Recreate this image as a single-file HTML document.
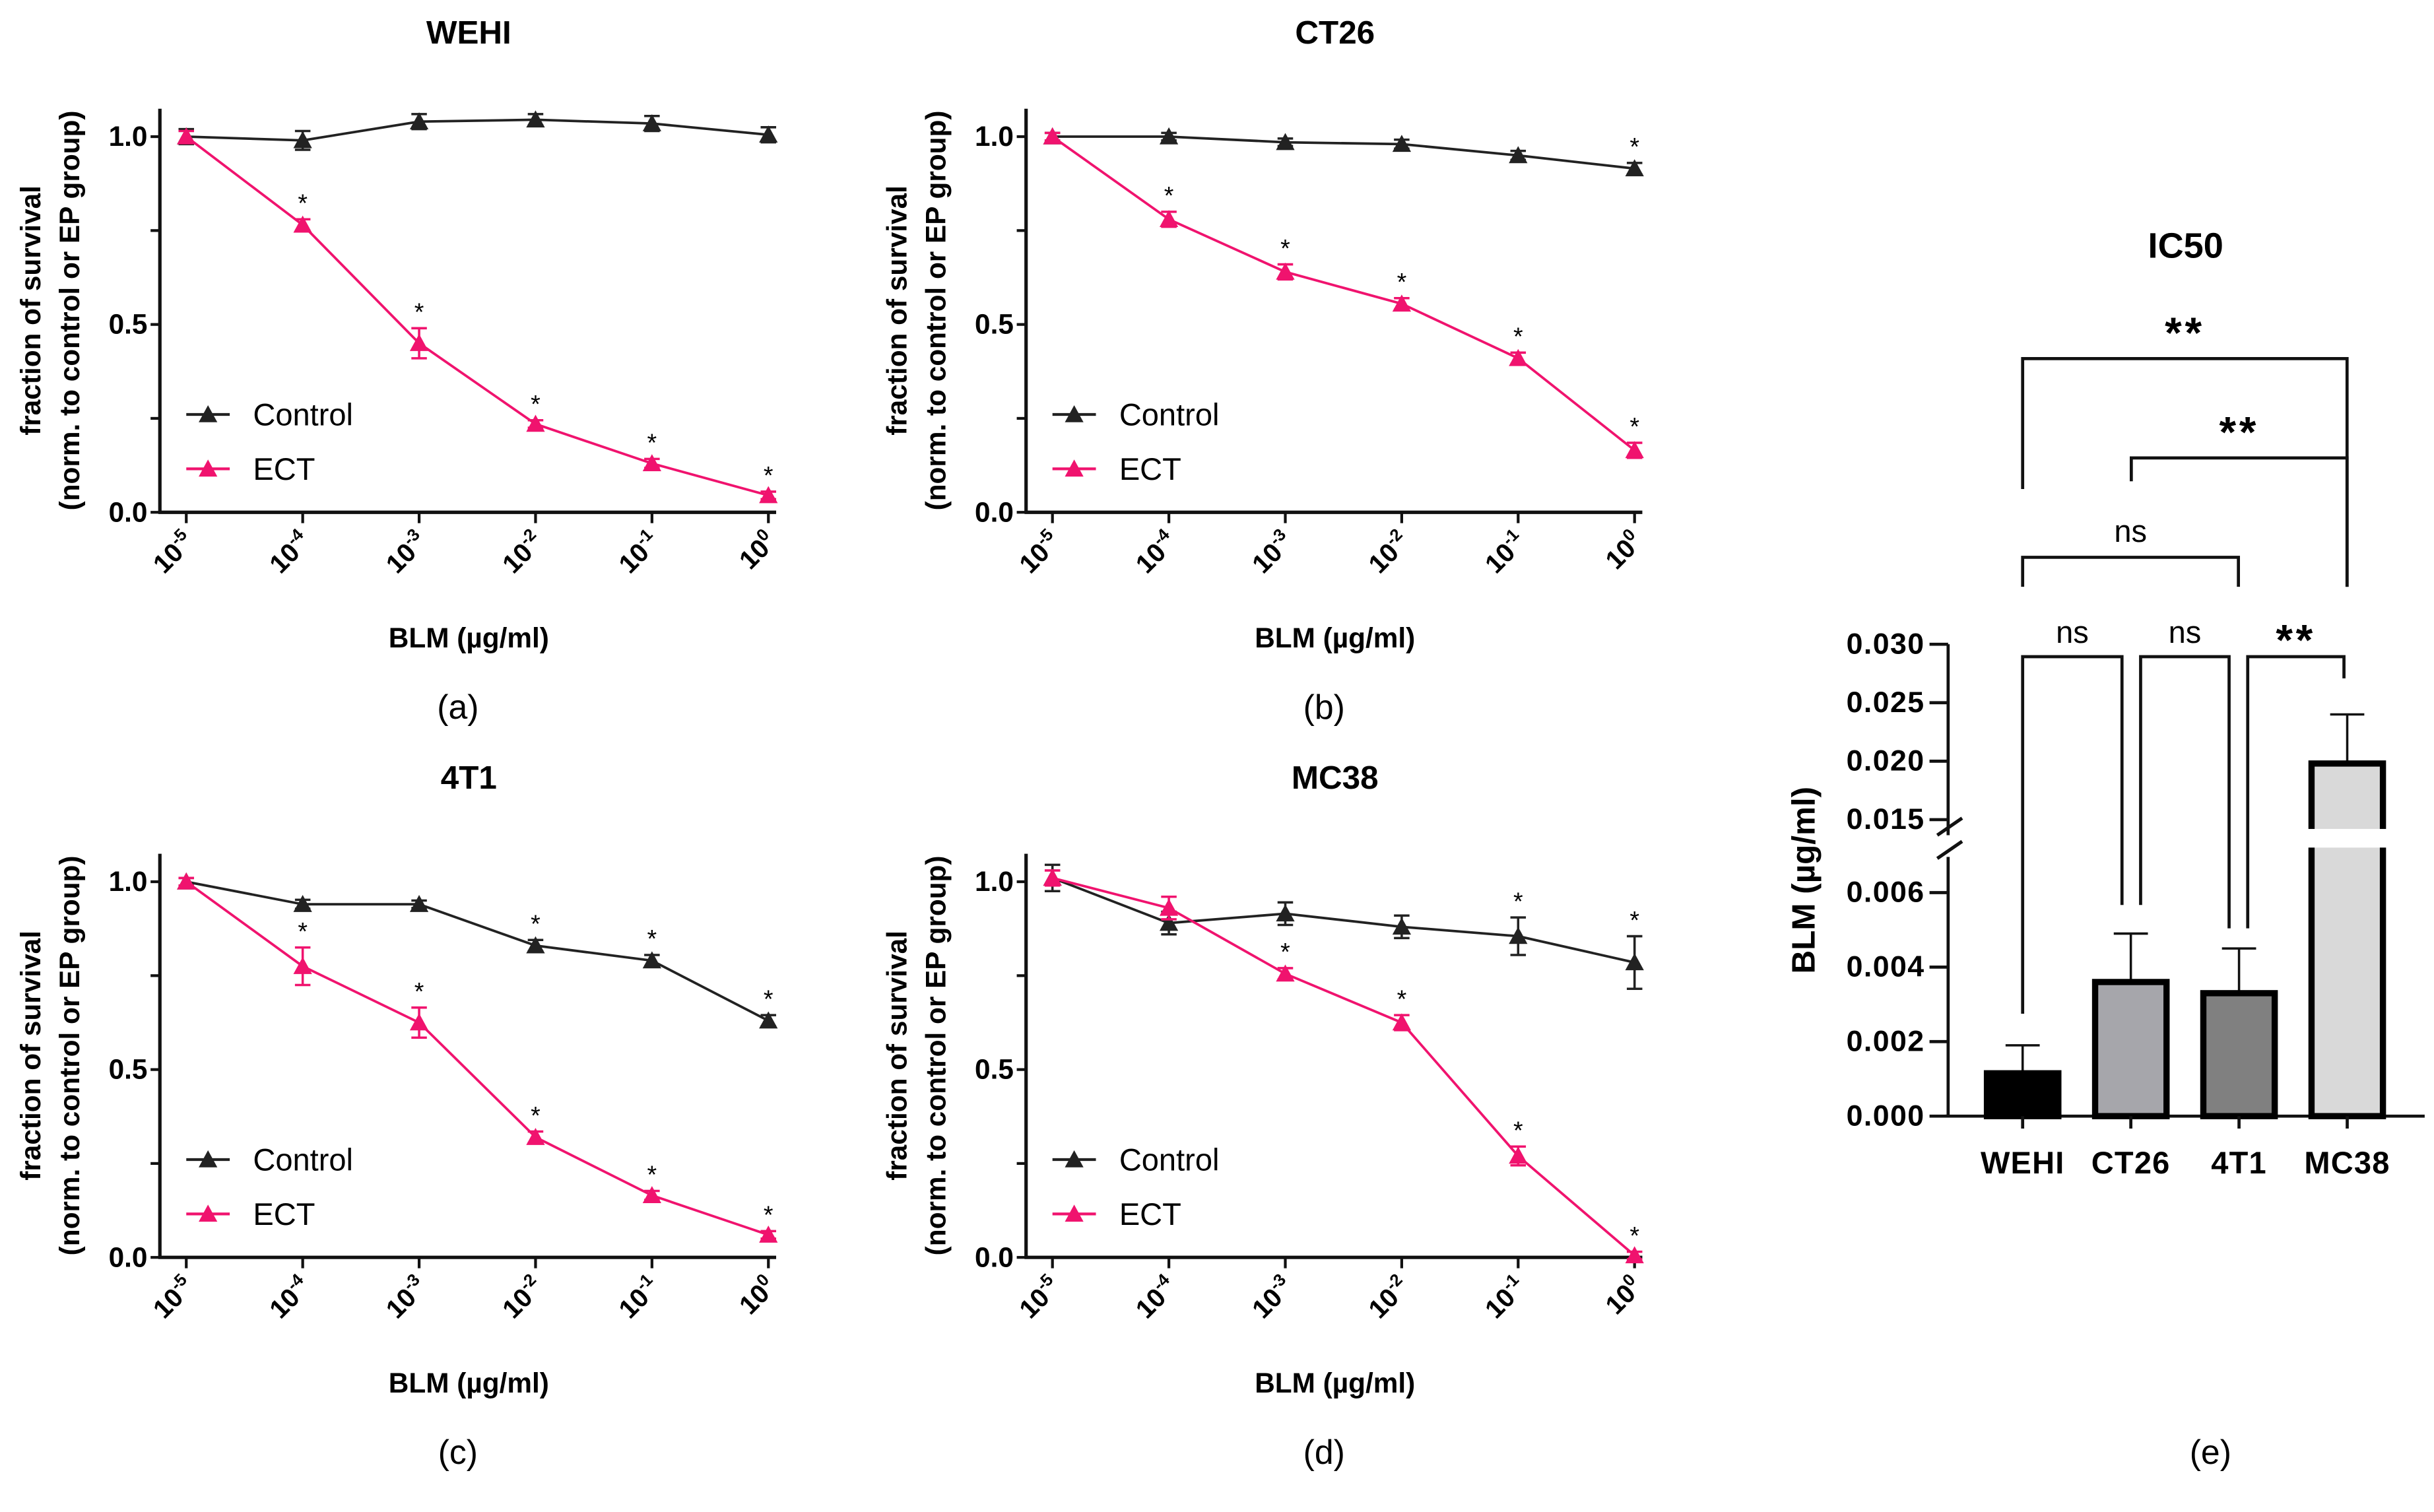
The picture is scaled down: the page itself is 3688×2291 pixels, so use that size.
<!DOCTYPE html>
<html><head><meta charset="utf-8"><style>
html,body{margin:0;padding:0;background:#fff;}
svg{display:block;font-family:"Liberation Sans",Arial,sans-serif;}
</style></head><body>
<svg id="fig" width="3688" height="2291" viewBox="0 0 1568 974" xmlns="http://www.w3.org/2000/svg"></svg>
<script>
const doses = ["-5","-4","-3","-2","-1","0"];
const yTicks = [0, 0.5, 1.0];
const yTickLabels = ["0.0","0.5","1.0"];
const panelTitles = ["WEHI","CT26","4T1","MC38"];
const panelLetters = ["(a)","(b)","(c)","(d)"];
const ctrlA=[1.0,0.99,1.04,1.045,1.035,1.005], ctrlErrA=[0.02,0.025,0.02,0.015,0.02,0.02];
const ectA=[1.0,0.765,0.45,0.235,0.13,0.045], ectErrA=[0.015,0.015,0.04,0.01,0.012,0.01];
const ctrlB=[1.0,1.0,0.985,0.98,0.95,0.915], ctrlErrB=[0.01,0.01,0.01,0.012,0.012,0.015];
const ectB=[1.0,0.78,0.64,0.555,0.41,0.165], ectErrB=[0.01,0.02,0.02,0.015,0.015,0.02];
const ctrlC=[1.0,0.94,0.94,0.83,0.79,0.63], ctrlErrC=[0.01,0.012,0.01,0.015,0.015,0.015];
const ectC=[1.0,0.775,0.625,0.32,0.165,0.06], ectErrC=[0.01,0.05,0.04,0.015,0.012,0.01];
const ctrlD=[1.01,0.89,0.915,0.88,0.855,0.785], ctrlErrD=[0.035,0.03,0.03,0.03,0.05,0.07];
const ectD=[1.01,0.93,0.755,0.625,0.27,0.005], ectErrD=[0.02,0.03,0.015,0.02,0.025,0.01];
const ctrlStars=[[],[5],[3,4,5],[4,5]];
const ectStars=[[1,2,3,4,5],[1,2,3,4,5],[1,2,3,4,5],[2,3,4,5]];

const ic50Groups=["WEHI","CT26","4T1","MC38"];
const ic50Values=[0.00115,0.0036,0.0033,0.0198];
const ic50Err=[0.00075,0.0013,0.0012,0.0042];
const ic50TickVals=[0,0.002,0.004,0.006,0.015,0.020,0.025,0.030];
const ic50TickLabels=["0.000","0.002","0.004","0.006","0.015","0.020","0.025","0.030"];

const NS="http://www.w3.org/2000/svg";
const svg=document.getElementById('fig');
function el(tag,attrs,parent,text){const e=document.createElementNS(NS,tag);for(const k in attrs)e.setAttribute(k,attrs[k]);if(text!==undefined)e.textContent=text;(parent||svg).appendChild(e);return e;}

const PINK="#f0136e";
const panels=[
 {ox:0,oy:0,ctrl:ctrlA,ce:ctrlErrA,ect:ectA,ee:ectErrA},
 {ox:558,oy:0,ctrl:ctrlB,ce:ctrlErrB,ect:ectB,ee:ectErrB},
 {ox:0,oy:480,ctrl:ctrlC,ce:ctrlErrC,ect:ectC,ee:ectErrC},
 {ox:558,oy:480,ctrl:ctrlD,ce:ctrlErrD,ect:ectD,ee:ectErrD}];

function tri(g,x,y,c,name){const t=el('polygon',{points:`${x},${y-6} ${x-6},${y+5} ${x+6},${y+5}`,fill:c},g);}

panels.forEach((p,pi)=>{
 const g=el('g',{});
 
 
 const ax=103+p.ox, y0=330+p.oy, yScale=242;
 const X=i=>120+p.ox+75*i, Y=v=>y0-v*yScale;
 let t=el('text',{x:302+p.ox,y:28+p.oy,'font-size':21,'font-weight':'bold','text-anchor':'middle'},g,panelTitles[pi]);
 
 let a=el('line',{x1:ax,y1:70+p.oy,x2:ax,y2:y0,stroke:'#111','stroke-width':2.2},g);
 
 a=el('line',{x1:ax-1,y1:y0,x2:X(5)+5,y2:y0,stroke:'#111','stroke-width':2.2},g);
 
 for(let v=0;v<=1.1;v+=0.25){el('line',{x1:ax-6,y1:Y(v),x2:ax,y2:Y(v),stroke:'#111','stroke-width':1.8},g);}
 yTicks.forEach((v,i)=>{const l=el('text',{x:ax-8,y:Y(v)+6,'font-size':18,'font-weight':'bold','text-anchor':'end'},g,yTickLabels[i]);
  });
 doses.forEach((d,i)=>{el('line',{x1:X(i),y1:y0,x2:X(i),y2:y0+7,stroke:'#111','stroke-width':1.8},g);
  const l=el('text',{transform:`translate(${X(i)+6},${y0+20}) rotate(-45)`,'font-size':17,'font-weight':'bold','text-anchor':'end'},g);
  
  el('tspan',{},l,'10');el('tspan',{dy:-7,'font-size':11},l,d);});
 t=el('text',{x:302+p.ox,y:417+p.oy,'font-size':18,'font-weight':'bold','text-anchor':'middle'},g,'BLM (µg/ml)');
 
 t=el('text',{transform:`translate(${26+p.ox},${200+p.oy}) rotate(-90)`,'font-size':18,'font-weight':'bold','text-anchor':'middle'},g,'fraction of survival');
 
 t=el('text',{transform:`translate(${51+p.ox},${200+p.oy}) rotate(-90)`,'font-size':18,'font-weight':'bold','text-anchor':'middle'},g,'(norm. to control or EP group)');
 
 t=el('text',{x:295+p.ox,y:463+p.oy,'font-size':22,'text-anchor':'middle'},g,panelLetters[pi]);
 
 [[p.ctrl,p.ce,'#222','control'],[p.ect,p.ee,PINK,'ect']].forEach(([vals,errs,c,nm])=>{
  const line=el('polyline',{points:vals.map((v,i)=>X(i)+','+Y(v)).join(' '),fill:'none',stroke:c,'stroke-width':1.6},g);
  
  vals.forEach((v,i)=>{const e=errs[i];
   el('path',{d:`M${X(i)},${Y(v+e)}V${Y(v-e)}M${X(i)-5},${Y(v+e)}H${X(i)+5}M${X(i)-5},${Y(v-e)}H${X(i)+5}`,stroke:c,'stroke-width':1.5,fill:'none'},g);
   tri(g,X(i),Y(v),c,nm+'-point');});
 });
 ctrlStars[pi].forEach(i=>{const s=el('text',{x:X(i),y:Y(p.ctrl[i]+p.ce[i])-5,'font-size':16,'text-anchor':'middle'},g,'*');});
 ectStars[pi].forEach(i=>{const s=el('text',{x:X(i),y:Y(p.ect[i]+p.ee[i])-5,'font-size':16,'text-anchor':'middle'},g,'*');});
 [['Control','#222',267],['ECT',PINK,302]].forEach(([lab,c,ly])=>{
  const lg=el('g',{},g);
  el('line',{x1:120+p.ox,y1:ly+p.oy,x2:148+p.ox,y2:ly+p.oy,stroke:c,'stroke-width':1.8},lg);
  tri(lg,134+p.ox,ly+p.oy,c,'legend-marker');
  el('text',{x:163+p.ox,y:ly+7+p.oy,'font-size':20},lg,lab);});
});

// IC50 panel
const e=el('g',{});
const eAx=1255, eY0=719;
function EY(v){return v<=0.0065? eY0-v*24000 : 528-(v-0.015)*7533;}
const EX=i=>1303+69.7*i;
let t=el('text',{x:1408,y:166,'font-size':23,'font-weight':'bold','text-anchor':'middle'},e,'IC50');

let a=el('path',{d:`M${eAx},415V538M${eAx},552V${eY0}M${eAx-2},${eY0}H1562`,stroke:'#111','stroke-width':2,fill:'none'},e);

el('path',{d:`M${eAx-7},538L${eAx+9},527M${eAx-7},553L${eAx+9},542`,stroke:'#111','stroke-width':2.2},e);
ic50TickVals.forEach((v,i)=>{el('line',{x1:eAx-12,y1:EY(v),x2:eAx,y2:EY(v),stroke:'#111','stroke-width':2},e);
 const l=el('text',{x:eAx-15,y:EY(v)+6,'font-size':19,'font-weight':'bold','text-anchor':'end','letter-spacing':0.6},e,ic50TickLabels[i]);
 });
t=el('text',{transform:'translate(1169,567) rotate(-90)','font-size':21,'font-weight':'bold','text-anchor':'middle'},e,'BLM (µg/ml)');

const barFill=['#000','#a6a6ab','#808080','#d9d9d9'];
ic50Groups.forEach((gname,i)=>{
 const x=EX(i), top=EY(ic50Values[i]);
 el('line',{x1:x,y1:EY(ic50Values[i]+ic50Err[i]),x2:x,y2:top,stroke:'#111','stroke-width':1.5},e);
 el('line',{x1:x-11,y1:EY(ic50Values[i]+ic50Err[i]),x2:x+11,y2:EY(ic50Values[i]+ic50Err[i]),stroke:'#111','stroke-width':1.5},e);
 const b=el('rect',{x:x-23,y:top,width:46,height:eY0-top,fill:barFill[i],stroke:'#000','stroke-width':4},e);
 
 if(ic50Values[i]>0.015) el('rect',{x:x-26,y:534,width:52,height:12,fill:'#fff'},e);
 el('line',{x1:x,y1:eY0,x2:x,y2:eY0+8,stroke:'#111','stroke-width':2},e);
 const l=el('text',{x:x,y:756,'font-size':20,'font-weight':'bold','text-anchor':'middle','letter-spacing':0.5},e,gname);
 });
const brackets=[[1303,1512,231,315,378,'**',212,'bold'],[1373,1512,295,310,378,'**',276,'bold'],[1303,1442,359,378,378,'ns',343,'normal'],
 [1303,1367,423,653,583,'ns',408,'normal'],[1379,1436,423,583,598,'ns',408,'normal'],[1448,1510,423,598,437,'**',410,'bold']];
brackets.forEach(([x1,x2,y,l1,l2,lab,ty,fw])=>{
 const bg=el('g',{},e);
 el('path',{d:`M${x1},${l1}V${y}H${x2}V${l2}`,fill:'none',stroke:'#111','stroke-width':2},bg);
 el('text',{x:(x1+x2)/2,y:ty+(fw==='bold'?12:6),'font-size':fw==='bold'?28:20,'font-weight':fw,'text-anchor':'middle','letter-spacing':fw==='bold'?2:0},bg,lab);});
t=el('text',{x:1424,y:943,'font-size':22,'text-anchor':'middle'},e,'(e)');

</script>
</body></html>
